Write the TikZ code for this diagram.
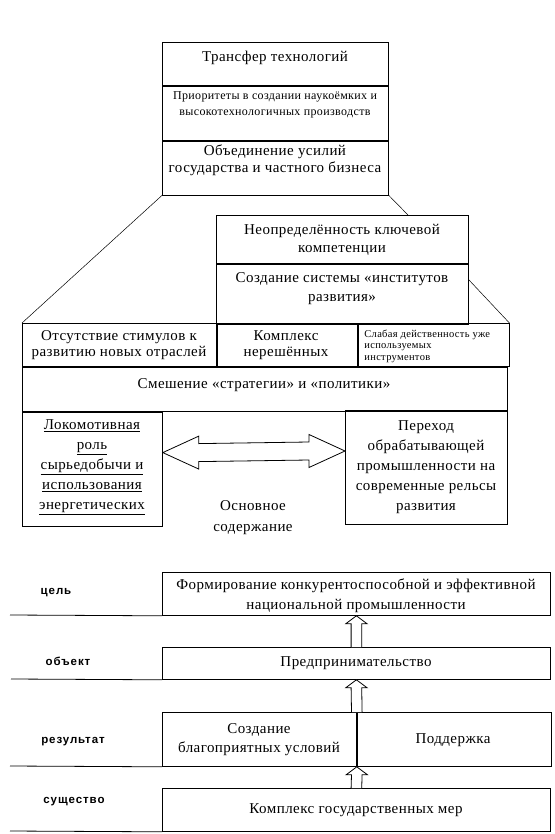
\documentclass[tikz,border=0pt]{standalone}
\usepackage{fontspec}
\setmainfont{Liberation Serif}[LetterSpace=3]
\newfontfamily\lblfont{Liberation Sans}[LetterSpace=8]
\usetikzlibrary{calc}
\newcommand{\fmain}[1]{\fontsize{15}{#1}\selectfont}
\newcommand{\fsmall}{\fontsize{12}{16}\selectfont}
\newcommand{\ftiny}{\fontsize{10.5}{11.5}\selectfont}
\newcommand{\flbl}{\lblfont\bfseries\fontsize{11.5}{12}\selectfont}
\newcommand{\blockup}[2]{%
  \draw[fill=white] ($#1+(-5.3,0)$) -- ($#2+(-5.3,8)$) -- ($#2+(-10.7,8)$) -- #2
    -- ($#2+(10.7,8)$) -- ($#2+(5.3,8)$) -- ($#1+(5.3,0)$);}
\begin{document}
\begin{tikzpicture}[x=1pt,y=-1pt,line width=0.8pt,
  cell/.style={draw,inner sep=0pt,anchor=north west},
  tx/.style={inner sep=0pt,align=center,font=\fmain{18}},
  lbl/.style={inner sep=0pt,font=\flbl},
  diag/.style={line width=0.5pt}]
\useasboundingbox (0,0) rectangle (554,834);
% ---------- top box
\node[cell,minimum width=226pt,minimum height=43pt] (t1) at (162,42) {};
\node[cell,minimum width=226pt,minimum height=54pt] (t2) at (t1.south west) {};
\node[cell,minimum width=226pt,minimum height=54pt] (t3) at (t2.south west) {};
\node[tx] (t1x) at (275,58) {Трансфер технологий};
\node[tx,font=\fsmall] (t2x) at (275,105) {Приоритеты в создании наукоёмких и\\высокотехнологичных производств};
\node[tx,font=\fmain{17}] (t3x) at (275,160) {Объединение усилий\\государства и частного бизнеса};
% ---------- middle box
\node[cell,minimum width=252pt,minimum height=48pt] (m1) at (216,215) {};
\node[cell,minimum width=252pt,minimum height=60pt] (m2) at (m1.south west) {};
\node[tx] (m1x) at (342,240) {Неопределённость ключевой\\компетенции};
\node[tx,font=\fmain{19}] (m2x) at (342,289) {Создание системы «институтов\\развития»};
% ---------- rows
\node[cell,minimum width=194pt,minimum height=43pt] (r1a) at (22,323) {};
\node[cell,minimum width=140pt,minimum height=43pt] (r1b) at (r1a.north east) {};
\node[cell,minimum width=151pt,minimum height=43pt] (r1c) at (r1b.north east) {};
\node[cell,minimum width=485pt,minimum height=44pt] (r2) at (r1a.south west) {};
\node[tx,font=\fmain{16}] (r1ax) at (119,345) {Отсутствие стимулов к\\развитию новых отраслей};
\node[tx,font=\fmain{16}] (r1bx) at (286,345) {Комплекс\\нерешённых};
\node[tx,font=\ftiny,align=left,anchor=west] (r1cx) at (364,346) {Слабая действенность уже\\используемых\\инструментов};
\node[tx] (r2x) at (264,385) {Смешение «стратегии» и «политики»};
% ---------- lower boxes
\node[cell,minimum width=140pt,minimum height=114pt] (L) at (r2.south west) {};
\node[cell,minimum width=162pt,minimum height=114pt] (R) at (345,410) {};
\node[tx,font=\fmain{20}] (Lx) at (92,467) {\underline{Локомотивная}\\\underline{роль}\\\underline{сырьедобычи и}\\\underline{использования}\\\underline{энергетических}};
\node[tx,font=\fmain{20}] (Rx) at (426,467) {Переход\\обрабатывающей\\промышленности на\\современные рельсы\\развития};
\node[tx,font=\fmain{21}] (osx) at (253,518) {Основное\\содержание};
% connectors (trapezoid sides)
\draw[diag] (t3.south west) -- (r1a.north west);
\draw[diag] (t3.south east) -- ($(m1.north west)+(192,0)$);
\draw[diag] ($(m2.north east)+(0,16)$) -- (r1c.north east);
% double arrow
\coordinate (A) at ($(L.north east)+(0,41)$);
\coordinate (B) at ($(R.north west)+(0,41)$);
\draw[fill=white] (A) -- ($(A)+(36,-16.5)$) -- ($(A)+(36,-9)$) -- ($(B)+(-36,-9)$) -- ($(B)+(-36,-16.5)$)
  -- (B) -- ($(B)+(-36,16.5)$) -- ($(B)+(-36,9)$) -- ($(A)+(36,9)$) -- ($(A)+(36,16.5)$) -- cycle;
% ---------- bottom section
\node[cell,minimum width=388pt,minimum height=43pt] (g) at (162,572) {};
\node[cell,minimum width=388pt,minimum height=32pt] (o) at (162,647) {};
\node[cell,minimum width=194pt,minimum height=54pt] (rza) at (162,712) {};
\node[cell,minimum width=194pt,minimum height=54pt] (rzb) at (rza.north east) {};
\node[cell,minimum width=388pt,minimum height=43pt] (s) at (162,788) {};
\node[tx,font=\fmain{20}] (gx) at (356,596) {Формирование конкурентоспособной и эффективной\\национальной промышленности};
\node[tx] (ox) at (356,663) {Предпринимательство};
\node[tx,font=\fmain{19}] (rzax) at (259,740) {Создание\\благоприятных условий};
\node[tx] (rzbx) at (453,740) {Поддержка};
\node[tx] (sx) at (356,810) {Комплекс государственных мер};
\node[lbl] (l1) at (56,593) {цель};
\node[lbl] (l2) at (68,661) {объект};
\node[lbl] (l3) at (73,742) {результат};
\node[lbl] (l4) at (74,802) {существо};
\draw (10,615) -- (g.south west);
\draw (11,679) -- (o.south west);
\draw (10,766) -- (rza.south west);
\draw (10,831) -- (s.south west);
\blockup{(o.north)}{(g.south)}
\blockup{(rza.north east)}{(o.south)}
\blockup{(s.north)}{(rza.south east)}
\end{tikzpicture}
\end{document}
